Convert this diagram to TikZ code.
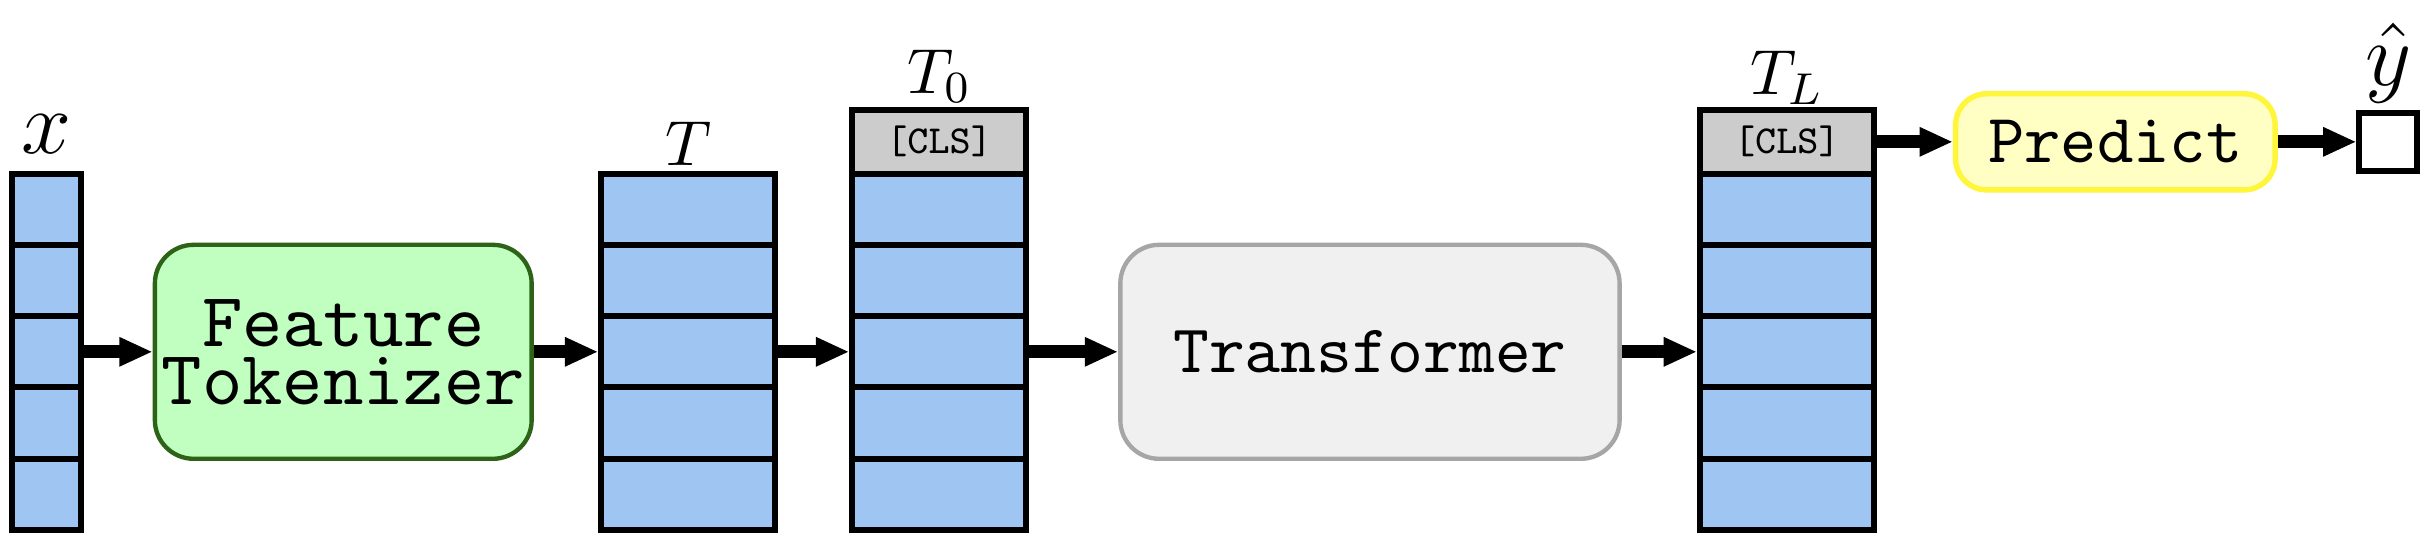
\documentclass[tikz,border=0pt]{standalone}
\usepackage{fix-cm}
\usetikzlibrary{positioning,arrows.meta}
\definecolor{cellblue}{HTML}{9FC6F2}
\definecolor{clsgray}{HTML}{CCCCCC}
\definecolor{ftfill}{HTML}{C0FFC0}
\definecolor{ftline}{HTML}{2D6316}
\definecolor{trfill}{HTML}{F0F0F0}
\definecolor{trline}{HTML}{A6A6A6}
\definecolor{prfill}{HTML}{FFFFC4}
\definecolor{prline}{HTML}{FFF53A}
\font\ftfont=cmtt10 at 14.1pt
\font\trfont=cmtt10 at 12.5pt
\font\prfont=cmtt10 at 12.7pt
\font\clsfont=cmtt8 at 7.3pt
\begin{document}
\begin{tikzpicture}[x=0.01cm,y=0.01cm]
\tikzstyle{every node}+=[inner sep=0pt]
\tikzstyle{cell}=[draw,line width=1.1pt,fill=cellblue,minimum height=0.46cm]
\tikzstyle{clscell}=[draw,line width=1.1pt,fill=clsgray,minimum height=0.41cm,font=\clsfont]
\tikzstyle{block}=[rounded corners=0.25cm,line width=0.8pt,minimum height=1.38cm,align=center]
\tikzstyle{flow}=[line width=2.4pt,-{Triangle[length=0.215cm,width=0.175cm]}]
\tikzstyle{biglbl}=[anchor=base,font=\fontsize{16.5}{18}\selectfont]
\tikzstyle{lbl}=[anchor=base,font=\fontsize{11.7}{13}\selectfont]
\useasboundingbox (0,0) rectangle (1568,350);

% token columns
\foreach \i in {1,...,5} {
  \node[cell,minimum width=0.44cm] (x\i) at (30,{261-46*\i}) {};
  \node[cell,minimum width=1.12cm] (t\i) at (444,{261-46*\i}) {};
  \node[cell,minimum width=1.12cm] (tz\i) at (606,{261-46*\i}) {};
  \node[cell,minimum width=1.12cm] (tl\i) at (1153,{261-46*\i}) {};
}
\node[clscell,minimum width=1.12cm] (tzc) at (606,258.5) {[CLS]};
\node[clscell,minimum width=1.12cm] (tlc) at (1153,258.5) {[CLS]};

% labels
\node[biglbl] (xlab) at (30,251) {$x$};
\node[lbl] (tlab) at (444,243.5) {$T$};
\node[lbl] (tzlab) at (606,290) {$T_0$};
\node[lbl] (tllab) at (1153,289) {$T_L$};

% blocks
\node[block,fill=ftfill,draw=ftline,minimum width=2.43cm,font=\ftfont] (ft) at (221.5,123) {Feature\\[-1.3pt]Tokenizer};
\node[block,fill=trfill,draw=trline,minimum width=3.22cm,font=\trfont] (tr) at (884,123) {Transformer};
\node[block,rounded corners=0.2cm,line width=1pt,fill=prfill,draw=prline,minimum width=2.06cm,
  minimum height=0.62cm,font=\prfont] (pred) at (1365,258.5) {Predict};
\node[draw,line width=1.1pt,fill=white,minimum size=0.37cm] (yhat) at (1541,258.5) {};
\node[biglbl] (ylab) at (1541,295) {$\hat{y}$};

% arrows
\draw[flow] (x3.east) -- (ft.west);
\draw[flow] (ft.east) -- (t3.west);
\draw[flow] (t3.east) -- (tz3.west);
\draw[flow] (tz3.east) -- (tr.west);
\draw[flow] (tr.east) -- (tl3.west);
\draw[flow] (tlc.east) -- (pred.west);
\draw[flow] (pred.east) -- (yhat.west);
\end{tikzpicture}
\end{document}
